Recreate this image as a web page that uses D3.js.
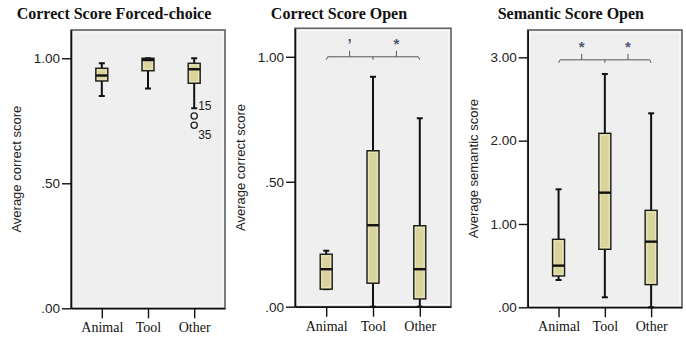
<!DOCTYPE html>
<html>
<head>
<meta charset="utf-8">
<script src="https://cdn.jsdelivr.net/npm/d3@7"></script>
<style>
  body { margin: 0; background: #fff; }
  svg { display: block; }
</style>
</head>
<body>
<div id="chart"></div>
<script>
// categories shared by all three panels
const categories = ['Animal', 'Tool', 'Other'];

// box stats per category: [low whisker, q1, median, q3, high whisker]
const forcedChoice = [
  [0.849, 0.909, 0.931, 0.960, 0.980],
  [0.879, 0.950, 0.993, 1.000, 1.000],
  [0.800, 0.900, 0.956, 0.980, 1.000],
];
const correctOpen = [
  [0.070, 0.070, 0.150, 0.210, 0.224],
  [0.000, 0.094, 0.326, 0.624, 0.920],
  [0.000, 0.031, 0.150, 0.324, 0.754],
];
const semanticOpen = [
  [0.328, 0.376, 0.500, 0.816, 1.416],
  [0.120, 0.696, 1.376, 2.088, 2.800],
  [0.000, 0.272, 0.788, 1.164, 2.328],
];

// outliers (only forced-choice / Other)
const forcedOutliers = [
  { cat: 'Other', value: 0.769, id: '15' },
  { cat: 'Other', value: 0.732, id: '35' },
];

// tick values
const propTicks = [0, 0.5, 1.0];
const semanticTicks = [0, 1, 2, 3];

// significance marks (Animal-Tool, Tool-Other)
const openMarks = ['\u2019', '*'];
const semanticMarks = ['*', '*'];
const openBracketLevel = 1.0;
const semanticBracketLevel = 2.97;

const width = 686;
const height = 341;

const panels = [
  { title: 'Correct Score Forced-choice', yLabel: 'Average correct score', stats: forcedChoice,
    ticks: propTicks, yMax: 1.113, left: 71, right: 225, top: 30, bottom: 308.3, outliers: forcedOutliers },
  { title: 'Correct Score Open', yLabel: 'Average correct score', stats: correctOpen,
    ticks: propTicks, yMax: 1.114, left: 295, right: 451, top: 28.3, bottom: 306.7,
    bracket: { level: openBracketLevel, marks: openMarks } },
  { title: 'Semantic Score Open', yLabel: 'Average semantic score', stats: semanticOpen,
    ticks: semanticTicks, yMax: 3.328, left: 527.7, right: 682, top: 30, bottom: 307.3,
    bracket: { level: semanticBracketLevel, marks: semanticMarks } },
];

const svg = d3.select('#chart')
  .append('svg')
  .attr('width', width)
  .attr('height', height);

// tick labels like ".00", "1.00"
const fmt = (d) => d3.format('.2f')(d).replace(/^0\./, '.');

panels.forEach(drawPanel);

function drawPanel(p) {
  const g = svg.append('g');

  const x = d3.scalePoint()
    .domain(categories)
    .range([p.left, p.right])
    .padding(0.667);
  const y = d3.scaleLinear().domain([0, p.yMax]).range([p.bottom, p.top]);

  // Plot background + frame
  g.append('rect')
    .attr('x', p.left).attr('y', p.top)
    .attr('width', p.right - p.left).attr('height', p.bottom - p.top)
    .attr('fill', '#efefef')
    .attr('stroke', '#5e5e5e')
    .attr('stroke-width', 1.6);
  g.append('rect')
    .attr('x', p.left + 2).attr('y', p.top + 2)
    .attr('width', p.right - p.left - 4).attr('height', p.bottom - p.top - 4)
    .attr('fill', 'none')
    .attr('stroke', '#fafafa')
    .attr('stroke-width', 1);

  // Title
  g.append('text')
    .attr('x', (p.left + p.right) / 2 - 34)
    .attr('y', 18.5)
    .attr('text-anchor', 'middle')
    .attr('font-family', '"Liberation Serif", "Times New Roman", serif')
    .attr('font-weight', 'bold')
    .attr('font-size', 16)
    .attr('fill', '#111')
    .text(p.title);

  // Y label
  g.append('text')
    .attr('transform', `translate(${p.left - 53}, ${(p.top + p.bottom) / 2}) rotate(-90)`)
    .attr('text-anchor', 'middle')
    .attr('dominant-baseline', 'middle')
    .attr('font-family', '"Liberation Sans", Arial, sans-serif')
    .attr('font-size', 13)
    .attr('fill', '#222')
    .text(p.yLabel);

  const boxW = 12;
  const capW = 6;
  const boxes = g.append('g')
    .selectAll('g')
    .data(p.stats.map((s, i) => ({ cat: categories[i], s })))
    .join('g');

  // whiskers
  boxes.append('line')
    .attr('x1', (d) => x(d.cat)).attr('x2', (d) => x(d.cat))
    .attr('y1', (d) => y(d.s[0])).attr('y2', (d) => y(d.s[4]))
    .attr('stroke', '#111').attr('stroke-width', 2);
  boxes.selectAll('.cap')
    .data((d) => [[d.cat, d.s[0]], [d.cat, d.s[4]]])
    .join('line')
    .attr('class', 'cap')
    .attr('x1', (d) => x(d[0]) - capW / 2).attr('x2', (d) => x(d[0]) + capW / 2)
    .attr('y1', (d) => y(d[1])).attr('y2', (d) => y(d[1]))
    .attr('stroke', '#111').attr('stroke-width', 2);

  // box
  boxes.append('rect')
    .attr('x', (d) => x(d.cat) - boxW / 2)
    .attr('y', (d) => y(d.s[3]))
    .attr('width', boxW)
    .attr('height', (d) => y(d.s[1]) - y(d.s[3]))
    .attr('fill', '#d9d49c')
    .attr('stroke', '#1a1a1a')
    .attr('stroke-width', 1.4);
  // light inner edge
  boxes.append('rect')
    .attr('x', (d) => x(d.cat) - boxW / 2 + 1.8)
    .attr('y', (d) => y(d.s[3]) + 1.8)
    .attr('width', boxW - 3.6)
    .attr('height', (d) => Math.max(0, y(d.s[1]) - y(d.s[3]) - 3.6))
    .attr('fill', 'none')
    .attr('stroke', '#ece9c6')
    .attr('stroke-width', 0.8);

  // median
  boxes.append('line')
    .attr('x1', (d) => x(d.cat) - boxW / 2).attr('x2', (d) => x(d.cat) + boxW / 2)
    .attr('y1', (d) => y(d.s[2])).attr('y2', (d) => y(d.s[2]))
    .attr('stroke', '#111').attr('stroke-width', 2.4);

  // outliers
  if (p.outliers) {
    g.selectAll('.outlier')
      .data(p.outliers)
      .join('circle')
      .attr('class', 'outlier')
      .attr('cx', (d) => x(d.cat))
      .attr('cy', (d) => y(d.value))
      .attr('r', 3.1)
      .attr('fill', 'none')
      .attr('stroke', '#222')
      .attr('stroke-width', 1.3);
    g.selectAll('.outlier-label')
      .data(p.outliers)
      .join('text')
      .attr('class', 'outlier-label')
      .attr('x', (d) => x(d.cat) + 4)
      .attr('y', (d, i) => y(d.value) + (i === 0 ? -9 : 11))
      .attr('dominant-baseline', 'middle')
      .attr('font-family', '"Liberation Sans", Arial, sans-serif')
      .attr('font-size', 12)
      .attr('fill', '#222')
      .text((d) => d.id);
  }

  // significance bracket
  if (p.bracket) {
    const yb = y(p.bracket.level);
    const xa = x(categories[0]);
    const xt = x(categories[1]);
    const xo = x(categories[2]);
    const mids = [(xa + xt) / 2, (xt + xo) / 2];
    const path = d3.path();
    path.moveTo(xa, yb + 3);
    path.lineTo(xa + 1.5, yb);
    path.lineTo(xo - 1.5, yb);
    path.lineTo(xo, yb + 3);
    path.moveTo(xt, yb);
    path.lineTo(xt, yb + 3);
    mids.forEach((m) => { path.moveTo(m, yb); path.lineTo(m, yb - 6); });
    g.append('path')
      .attr('d', path.toString())
      .attr('fill', 'none')
      .attr('stroke', '#555')
      .attr('stroke-width', 1);
    g.selectAll('.mark')
      .data(p.bracket.marks)
      .join('text')
      .attr('class', 'mark')
      .attr('x', (d, i) => mids[i])
      .attr('y', yb - 8)
      .attr('text-anchor', 'middle')
      .attr('font-family', '"Liberation Sans", Arial, sans-serif')
      .attr('font-weight', 'bold')
      .attr('font-size', 15)
      .attr('fill', '#4c5573')
      .text((d) => d);
  }

  // Axes
  const yAxis = d3.axisLeft(y).tickValues(p.ticks).tickSize(9).tickSizeOuter(0).tickPadding(2).tickFormat(fmt);
  const yg = g.append('g').attr('transform', `translate(${p.left}, 0)`).call(yAxis);
  yg.select('.domain').attr('stroke', '#111').attr('stroke-width', 1.6);
  yg.selectAll('.tick line').attr('stroke', '#111').attr('stroke-width', 1.4);
  yg.selectAll('.tick text')
    .attr('font-family', '"Liberation Sans", Arial, sans-serif')
    .attr('font-size', 13.5)
    .attr('fill', '#222');

  const xAxis = d3.axisBottom(x).tickSize(10).tickSizeOuter(0).tickPadding(4);
  const xg = g.append('g').attr('transform', `translate(0, ${p.bottom})`).call(xAxis);
  xg.select('.domain').attr('stroke', '#111').attr('stroke-width', 1.6);
  xg.selectAll('.tick line').attr('stroke', '#111').attr('stroke-width', 1.4);
  xg.selectAll('.tick text')
    .attr('font-family', '"Liberation Serif", "Times New Roman", serif')
    .attr('font-size', 14)
    .attr('fill', '#111');
}
</script>
</body>
</html>
